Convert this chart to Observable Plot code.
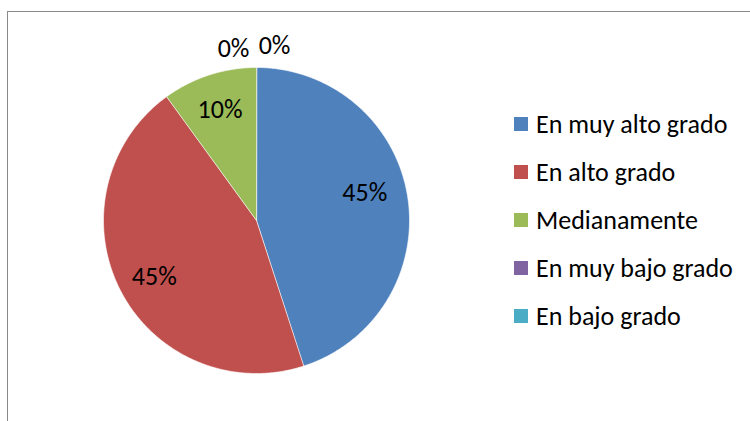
<!DOCTYPE html>
<html>
<head>
<meta charset="utf-8">
<script src="https://cdn.jsdelivr.net/npm/d3@7"></script>
<script src="https://cdn.jsdelivr.net/npm/@observablehq/plot@0.6"></script>
<style>
  html, body { margin: 0; padding: 0; background: #fff; }
  #wrap { position: relative; width: 750px; height: 421px; overflow: hidden; font-family: Carlito, "Open Sans", sans-serif; }
  #frame { position: absolute; left: 7px; top: 11px; width: 800px; height: 500px; border-top: 1.5px solid #8a8a8a; border-left: 1.5px solid #8a8a8a; }
  #chart { position: absolute; left: 0; top: 0; }
  #legend { position: absolute; left: 514px; top: 100px; }
  .item { display: flex; align-items: center; height: 48px; }
  .sw { width: 14px; height: 14px; margin-right: 8px; }
  .lbl { font-size: 26px; color: #000; white-space: nowrap; line-height: 1; }
</style>
</head>
<body>
<div id="wrap">
  <div id="frame"></div>
  <div id="chart"></div>
  <div id="legend"></div>
</div>
<script>
const categories = ["En muy alto grado", "En alto grado", "Medianamente", "En muy bajo grado", "En bajo grado"];
const values = [45, 45, 10, 0, 0];
const labels = ["45%", "45%", "10%", "0%", "0%"];
const colors = ["#4F81BD", "#C0504D", "#9BBB59", "#8064A2", "#4BACC6"];

const pie = d3.pie().sort(null).value(d => d)(values);

// slice outlines in unit coordinates (angle clockwise from 12 o'clock)
const slicePts = [];
pie.forEach((p, i) => {
  if (p.endAngle - p.startAngle <= 0) return;
  slicePts.push({cat: categories[i], x: 0, y: 0});
  const n = Math.max(2, Math.ceil((p.endAngle - p.startAngle) / 0.01));
  for (let k = 0; k <= n; k++) {
    const a = p.startAngle + (p.endAngle - p.startAngle) * k / n;
    slicePts.push({cat: categories[i], x: Math.sin(a), y: Math.cos(a)});
  }
});

const inside = [];
const zeros = [];
pie.forEach((p, i) => {
  const a = (p.startAngle + p.endAngle) / 2;
  if (values[i] > 0) {
    inside.push({x: 0.75 * Math.sin(a), y: 0.75 * Math.cos(a), t: labels[i], k: inside.length});
  } else {
    zeros.push({x: 1.13 * Math.sin(a), y: 1.13 * Math.cos(a), t: labels[i], k: zeros.length});
  }
});

const txt = {x: "x", y: "y", text: "t", fontSize: 26, fill: "#000"};
const chart = Plot.plot({
  width: 750,
  height: 421,
  margin: 0,
  style: {background: "transparent", fontFamily: "Carlito, 'Open Sans', sans-serif"},
  x: {domain: [-1, 1], range: [103, 409], axis: null},
  y: {domain: [-1, 1], range: [373, 67], axis: null},
  color: {domain: categories, range: colors},
  marks: [
    Plot.line(slicePts, {x: "x", y: "y", z: "cat", fill: "cat", stroke: "white", strokeWidth: 0.6, curve: "linear-closed"}),
    Plot.text(inside.filter(d => d.k === 0), {...txt, dx: -5, dy: -10}),
    Plot.text(inside.filter(d => d.k === 1), {...txt, dy: 4}),
    Plot.text(inside.filter(d => d.k === 2), {...txt, dx: -1, dy: -2}),
    Plot.text(zeros.filter(d => d.k === 0), {...txt, dx: -23, dy: 1}),
    Plot.text(zeros.filter(d => d.k === 1), {...txt, dx: 18, dy: -2})
  ]
});
document.getElementById("chart").appendChild(chart);

const legend = document.getElementById("legend");
categories.forEach((c, i) => {
  const item = document.createElement("div");
  item.className = "item";
  const sw = document.createElement("div");
  sw.className = "sw";
  sw.style.background = colors[i];
  const lb = document.createElement("div");
  lb.className = "lbl";
  lb.textContent = c;
  item.appendChild(sw);
  item.appendChild(lb);
  legend.appendChild(item);
});
</script>
</body>
</html>
